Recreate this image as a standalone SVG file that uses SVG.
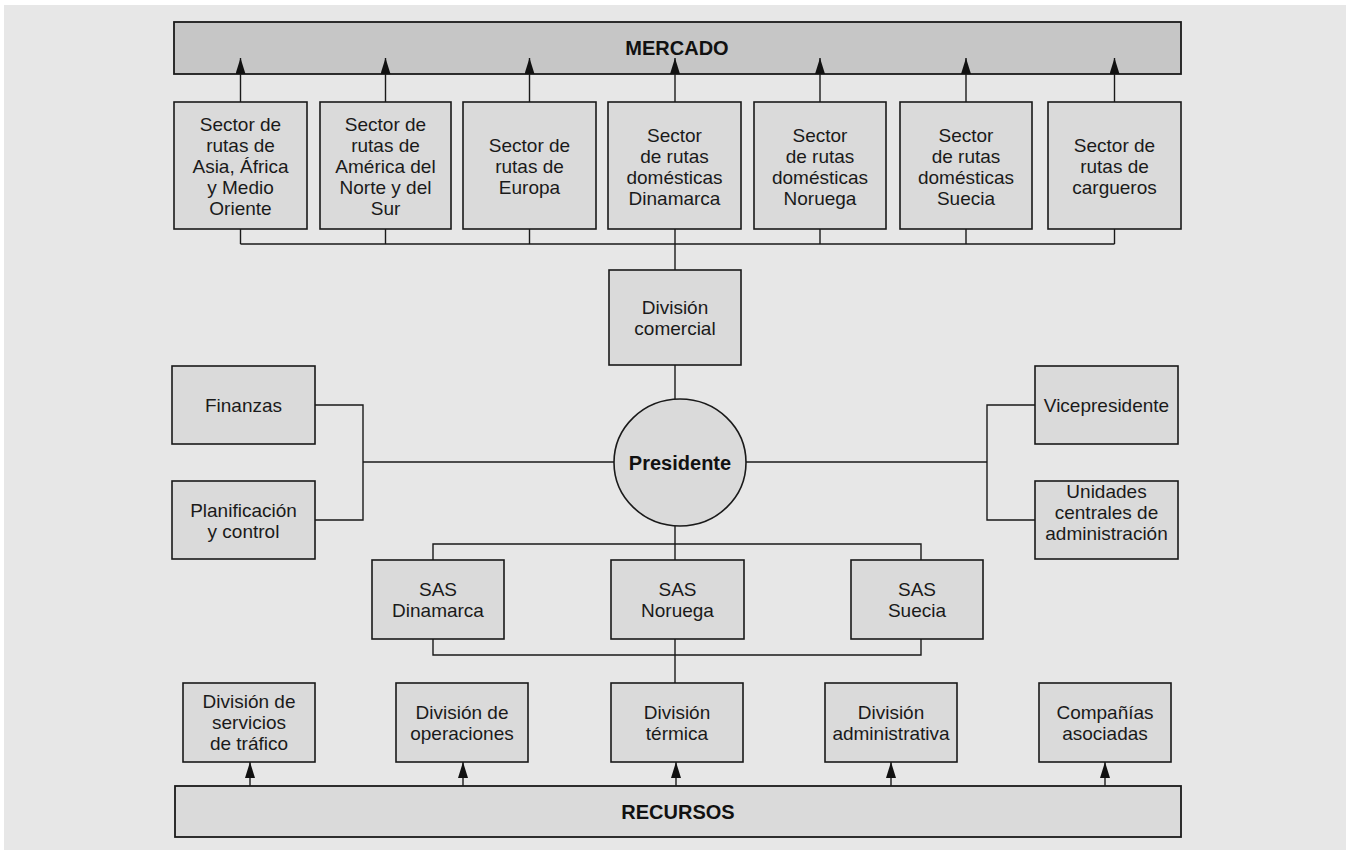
<svg xmlns="http://www.w3.org/2000/svg" width="1347" height="851" viewBox="0 0 1347 851">
<style>
.bx{fill:#dadada;stroke:#1a1a1a;stroke-width:1.6}
.bar{fill:#c6c6c6;stroke:#1a1a1a;stroke-width:1.8}
.bar2{fill:#dadada;stroke:#1a1a1a;stroke-width:1.8}
.t{font-family:"Liberation Sans",Arial,sans-serif;font-size:19px;fill:#1a1a1a;text-anchor:middle}
.b{font-family:"Liberation Sans",Arial,sans-serif;font-size:20px;font-weight:bold;fill:#111;text-anchor:middle}
.c line,.c polyline{stroke:#1a1a1a;stroke-width:1.4;fill:none}
</style>
<defs>
<marker id="ah" markerUnits="userSpaceOnUse" markerWidth="16" markerHeight="10" refX="16" refY="5" orient="auto">
<path d="M0,0 L16,5 L0,10 z" fill="#111"/>
</marker>
</defs>
<rect x="0" y="0" width="1347" height="851" fill="#ffffff"/>
<rect x="4" y="5" width="1342" height="845" fill="#e7e7e7"/>

<g id="mercado"><rect class="bar" x="174" y="22" width="1007" height="52"/><text class="b" x="677" y="55">MERCADO</text></g>

<g id="s1"><rect class="bx" x="174" y="102" width="133" height="127"/>
<text class="t" x="240.5" y="131">Sector de</text><text class="t" x="240.5" y="152">rutas de</text><text class="t" x="240.5" y="173">Asia, África</text><text class="t" x="240.5" y="194">y Medio</text><text class="t" x="240.5" y="215">Oriente</text></g>
<g id="s2"><rect class="bx" x="320" y="102" width="131" height="127"/>
<text class="t" x="385.5" y="131">Sector de</text><text class="t" x="385.5" y="152">rutas de</text><text class="t" x="385.5" y="173">América del</text><text class="t" x="385.5" y="194">Norte y del</text><text class="t" x="385.5" y="215">Sur</text></g>
<g id="s3"><rect class="bx" x="463" y="102" width="133" height="127"/>
<text class="t" x="529.5" y="152">Sector de</text><text class="t" x="529.5" y="173">rutas de</text><text class="t" x="529.5" y="194">Europa</text></g>
<g id="s4"><rect class="bx" x="608" y="102" width="133" height="127"/>
<text class="t" x="674.5" y="141.5">Sector</text><text class="t" x="674.5" y="162.5">de rutas</text><text class="t" x="674.5" y="183.5">domésticas</text><text class="t" x="674.5" y="204.5">Dinamarca</text></g>
<g id="s5"><rect class="bx" x="754" y="102" width="132" height="127"/>
<text class="t" x="820" y="141.5">Sector</text><text class="t" x="820" y="162.5">de rutas</text><text class="t" x="820" y="183.5">domésticas</text><text class="t" x="820" y="204.5">Noruega</text></g>
<g id="s6"><rect class="bx" x="900" y="102" width="132" height="127"/>
<text class="t" x="966" y="141.5">Sector</text><text class="t" x="966" y="162.5">de rutas</text><text class="t" x="966" y="183.5">domésticas</text><text class="t" x="966" y="204.5">Suecia</text></g>
<g id="s7"><rect class="bx" x="1048" y="102" width="133" height="127"/>
<text class="t" x="1114.5" y="152">Sector de</text><text class="t" x="1114.5" y="173">rutas de</text><text class="t" x="1114.5" y="194">cargueros</text></g>

<g id="comercial"><rect class="bx" x="609" y="270" width="132" height="95"/>
<text class="t" x="675" y="314">División</text><text class="t" x="675" y="335">comercial</text></g>

<g id="finanzas"><rect class="bx" x="172" y="366" width="143" height="78"/><text class="t" x="243.5" y="412">Finanzas</text></g>
<g id="planificacion"><rect class="bx" x="172" y="481" width="143" height="78"/>
<text class="t" x="243.5" y="517">Planificación</text><text class="t" x="243.5" y="538">y control</text></g>
<g id="vice"><rect class="bx" x="1035" y="366" width="143" height="78"/><text class="t" x="1106.5" y="412">Vicepresidente</text></g>
<g id="unidades"><rect class="bx" x="1035" y="481" width="143" height="78"/>
<text class="t" x="1106.5" y="498">Unidades</text><text class="t" x="1106.5" y="519">centrales de</text><text class="t" x="1106.5" y="540">administración</text></g>

<g id="presidente"><ellipse class="bx" cx="680" cy="462.5" rx="66" ry="63.5"/><text class="b" x="680" y="470">Presidente</text></g>

<g id="sasdk"><rect class="bx" x="372" y="560" width="132" height="79"/>
<text class="t" x="438" y="596">SAS</text><text class="t" x="438" y="617">Dinamarca</text></g>
<g id="sasno"><rect class="bx" x="611" y="560" width="133" height="79"/>
<text class="t" x="677.5" y="596">SAS</text><text class="t" x="677.5" y="617">Noruega</text></g>
<g id="sasse"><rect class="bx" x="851" y="560" width="132" height="79"/>
<text class="t" x="917" y="596">SAS</text><text class="t" x="917" y="617">Suecia</text></g>

<g id="d1"><rect class="bx" x="183" y="683" width="132" height="79"/>
<text class="t" x="249" y="708">División de</text><text class="t" x="249" y="729">servicios</text><text class="t" x="249" y="750">de tráfico</text></g>
<g id="d2"><rect class="bx" x="396" y="683" width="132" height="79"/>
<text class="t" x="462" y="718.5">División de</text><text class="t" x="462" y="739.5">operaciones</text></g>
<g id="d3"><rect class="bx" x="611" y="683" width="132" height="79"/>
<text class="t" x="677" y="718.5">División</text><text class="t" x="677" y="739.5">térmica</text></g>
<g id="d4"><rect class="bx" x="825" y="683" width="132" height="79"/>
<text class="t" x="891" y="718.5">División</text><text class="t" x="891" y="739.5">administrativa</text></g>
<g id="d5"><rect class="bx" x="1039" y="683" width="132" height="79"/>
<text class="t" x="1105" y="718.5">Compañías</text><text class="t" x="1105" y="739.5">asociadas</text></g>

<g id="recursos"><rect class="bar2" x="175" y="786" width="1006" height="51"/><text class="b" x="678" y="819">RECURSOS</text></g>

<g class="c" id="connectors">
<line x1="240.5" y1="102" x2="240.5" y2="58" marker-end="url(#ah)"/>
<line x1="385.5" y1="102" x2="385.5" y2="58" marker-end="url(#ah)"/>
<line x1="529.5" y1="102" x2="529.5" y2="58" marker-end="url(#ah)"/>
<line x1="675" y1="102" x2="675" y2="58" marker-end="url(#ah)"/>
<line x1="820" y1="102" x2="820" y2="58" marker-end="url(#ah)"/>
<line x1="966" y1="102" x2="966" y2="58" marker-end="url(#ah)"/>
<line x1="1114.5" y1="102" x2="1114.5" y2="58" marker-end="url(#ah)"/>
<line x1="240.5" y1="229" x2="240.5" y2="244"/>
<line x1="385.5" y1="229" x2="385.5" y2="244"/>
<line x1="529.5" y1="229" x2="529.5" y2="244"/>
<line x1="820" y1="229" x2="820" y2="244"/>
<line x1="966" y1="229" x2="966" y2="244"/>
<line x1="1114.5" y1="229" x2="1114.5" y2="244"/>
<line x1="240.5" y1="244" x2="1114.5" y2="244"/>
<line x1="675" y1="229" x2="675" y2="270"/>
<line x1="675" y1="365" x2="675" y2="399"/>
<polyline points="315,405 363,405 363,520 315,520"/>
<line x1="363" y1="462" x2="614" y2="462"/>
<polyline points="1035,405 987,405 987,520 1035,520"/>
<line x1="746" y1="462" x2="987" y2="462"/>
<line x1="675" y1="526" x2="675" y2="560"/>
<polyline points="433,560 433,544 921,544 921,560"/>
<polyline points="433,639 433,655 921,655 921,639"/>
<line x1="675" y1="639" x2="675" y2="683"/>
<line x1="250" y1="786" x2="250" y2="762" marker-end="url(#ah)"/>
<line x1="463" y1="786" x2="463" y2="762" marker-end="url(#ah)"/>
<line x1="676" y1="786" x2="676" y2="762" marker-end="url(#ah)"/>
<line x1="891" y1="786" x2="891" y2="762" marker-end="url(#ah)"/>
<line x1="1105" y1="786" x2="1105" y2="762" marker-end="url(#ah)"/>
</g>
</svg>
